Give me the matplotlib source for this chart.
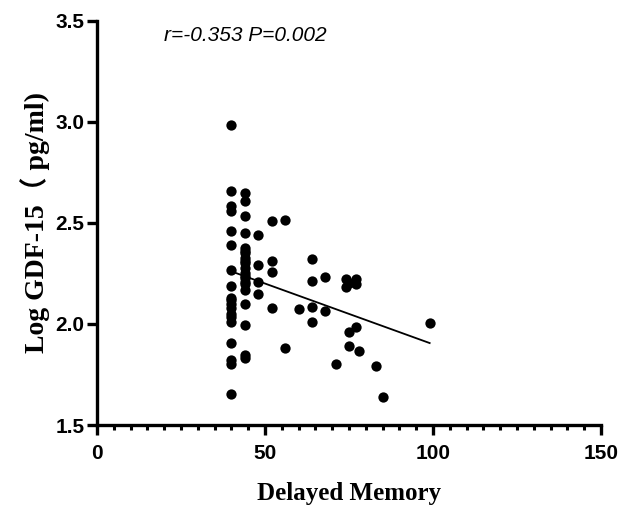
import numpy as np
import matplotlib.pyplot as plt
from matplotlib.ticker import MultipleLocator

# Delayed Memory score vs Log GDF-15
delayed_memory = [40] * 19 + [44] * 21 + [48] * 4 + [52] * 4 + [56] * 2 + [60] + [64] * 4 + [68] * 2 + \
    [71] + [74] * 2 + [75] * 3 + [77] * 3 + [78, 83, 85, 99]
log_gdf15 = [2.985, 2.657, 2.583, 2.558, 2.458, 2.392, 2.268, 2.188, 2.127, 2.12, 2.10, 2.077, 2.05, 2.036, 2.011,
             1.906, 1.82, 1.80, 1.655,
             2.649, 2.607, 2.533, 2.45, 2.376, 2.36, 2.351, 2.326, 2.31, 2.30, 2.276, 2.25, 2.24, 2.227, 2.21, 2.20,
             2.168, 2.097, 1.995, 1.845, 1.83,
             2.44, 2.293, 2.21, 2.149,
             2.508, 2.314, 2.258, 2.077,
             2.516, 1.879,
             2.073,
             2.322, 2.213, 2.086, 2.011,
             2.232, 2.066,
             1.80,
             2.225, 2.185,
             2.205, 1.961, 1.89,
             2.225, 2.20, 1.983,
             1.865, 1.791, 1.638, 2.003]
stat_text = 'r=-0.353 P=0.002'

x = np.array(delayed_memory, dtype=float)
y = np.array(log_gdf15)

fig = plt.figure(figsize=(6.36, 5.07), dpi=100)
ax = fig.add_axes([0.1525, 0.1617, 0.7925, 0.797])

ax.scatter(x, y, s=55, color='black', zorder=3, linewidths=0)

# linear fit over the range of the data
k, b = np.polyfit(x, y, 1)
xs = np.array([x.min(), x.max()])
ax.plot(xs, k * xs + b, color='black', lw=1.3, zorder=2)

ax.set_xlim(0, 150)
ax.set_ylim(1.5, 3.5)
ax.xaxis.set_major_locator(MultipleLocator(50))
ax.xaxis.set_minor_locator(MultipleLocator(5))
ax.yaxis.set_major_locator(MultipleLocator(0.5))
ax.yaxis.set_major_formatter(plt.FormatStrFormatter('%.1f'))

for s in ['top', 'right']:
    ax.spines[s].set_visible(False)
for s in ['left', 'bottom']:
    ax.spines[s].set_linewidth(2.4)
ax.tick_params(which='major', length=7, width=2.4, direction='out')
ax.tick_params(which='minor', length=3.5, width=2.2, direction='out')
ax.tick_params(axis='x', which='major', pad=6.5)
ax.tick_params(axis='y', which='major', pad=2)
for lab in ax.get_xticklabels() + ax.get_yticklabels():
    lab.set_fontfamily('Liberation Sans')
    lab.set_fontweight('bold')
    lab.set_fontsize(15)

ax.set_xlabel('Delayed Memory', family=['Liberation Serif', 'Noto Sans CJK TC'], fontweight='bold',
              fontsize=18, labelpad=14)
ax.set_ylabel('Log GDF-15（ pg/ml)', family=['Liberation Serif', 'Noto Sans CJK TC'], fontweight='bold',
              fontsize=20, labelpad=4)

ax.text(20, 3.43, stat_text, family='Liberation Sans', style='italic', fontsize=15, ha='left', va='center')

plt.savefig('out.png', dpi=100)
